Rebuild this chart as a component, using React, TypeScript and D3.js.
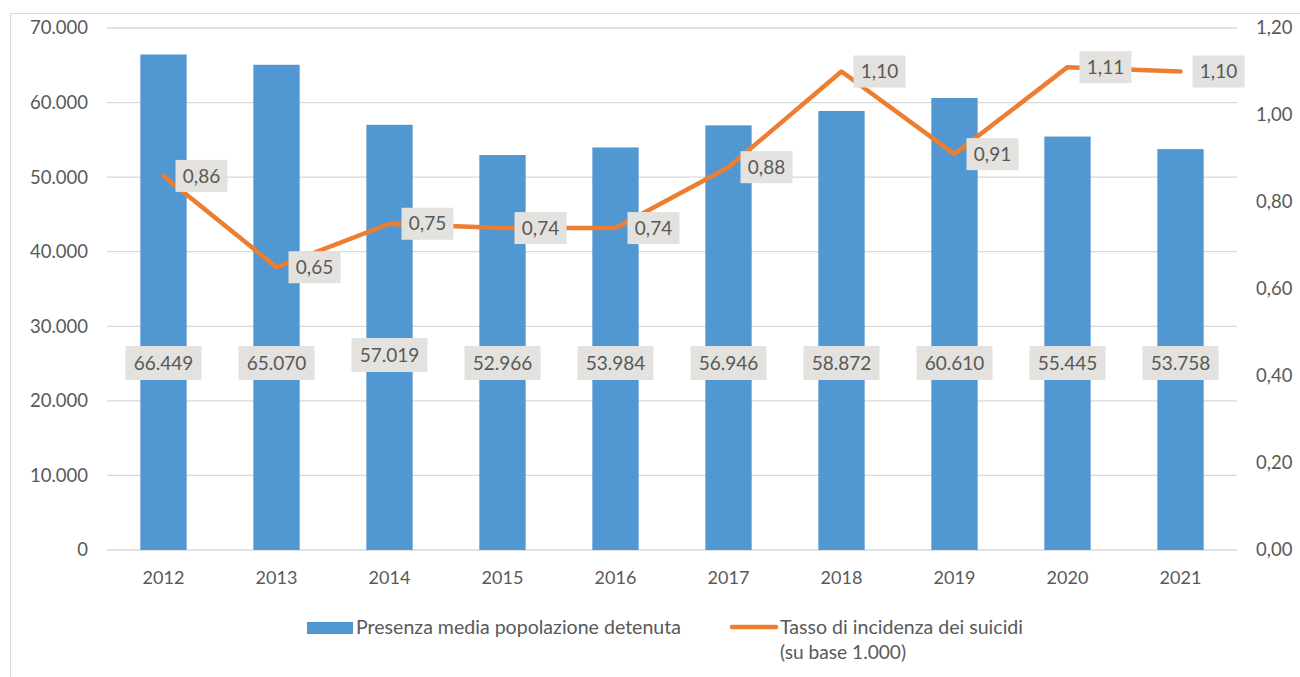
import React from 'react';
import { scaleBand, scaleLinear, line, format } from 'd3';

const width = 1300;
const height = 677;

const years = ['2012', '2013', '2014', '2015', '2016', '2017', '2018', '2019', '2020', '2021'];
const presenza = [66449, 65070, 57019, 52966, 53984, 56946, 58872, 60610, 55445, 53758];
const tasso = [0.86, 0.65, 0.75, 0.74, 0.74, 0.88, 1.1, 0.91, 1.11, 1.1];
const leftTicks = [0, 10000, 20000, 30000, 40000, 50000, 60000, 70000];
const rightTicks = [0, 0.2, 0.4, 0.6, 0.8, 1.0, 1.2];

const margin = { left: 107, right: 63, top: 28, bottom: 127 };
const font = 'Lato, "Open Sans", sans-serif';
const textColor = '#595959';

const itNum = (v: number) => format(',')(v).replace(/,/g, '.');
const itDec = (v: number) => v.toFixed(2).replace('.', ',');

export default function App() {
  const x = scaleBand()
    .domain(years)
    .range([margin.left, width - margin.right])
    .paddingInner(0.59)
    .paddingOuter(0.295);
  const yL = scaleLinear().domain([0, 70000]).range([height - margin.bottom, margin.top]);
  const yR = scaleLinear().domain([0, 1.2]).range([height - margin.bottom, margin.top]);
  const cx = (y: string) => (x(y) ?? 0) + x.bandwidth() / 2;

  const path = line<number>()
    .x((_, i) => cx(years[i]))
    .y((d) => yR(d))(tasso);

  return (
    <svg width={width} height={height} style={{ position: 'absolute', left: 0, top: 0 }}>
      <rect x={10.5} y={13.5} width={1300} height={700} fill="#fff" stroke="#d9d9d9" />
      {leftTicks.map((t) => (
        <g key={t}>
          <line x1={margin.left} x2={width - margin.right} y1={yL(t)} y2={yL(t)} stroke="#d9d9d9" strokeWidth={1.3} />
          <text x={88} y={yL(t)} dy="0.35em" textAnchor="end" fontFamily={font} fontSize={18.5} fill={textColor}>
            {itNum(t)}
          </text>
        </g>
      ))}
      {rightTicks.map((t) => (
        <text key={t} x={1256} y={yR(t)} dy="0.35em" fontFamily={font} fontSize={18.5} fill={textColor}>
          {itDec(t)}
        </text>
      ))}
      {years.map((yr, i) => (
        <rect key={yr} x={x(yr)} y={yL(presenza[i])} width={x.bandwidth()} height={yL(0) - yL(presenza[i])} fill="#5197d2" />
      ))}
      {years.map((yr) => (
        <text key={yr} x={cx(yr)} y={578} dy="0.35em" textAnchor="middle" fontFamily={font} fontSize={18} fill={textColor}>
          {yr}
        </text>
      ))}
      <path d={path ?? ''} fill="none" stroke="#ed7d31" strokeWidth={4.5} strokeLinejoin="round" strokeLinecap="round" />
      {years.map((yr, i) => {
        const ly = i === 2 ? 355 : 363;
        return (
          <g key={yr}>
            <rect x={cx(yr) - 38} y={ly - 17} width={76} height={34} fill="#e3e2de" />
            <text x={cx(yr)} y={ly} dy="0.35em" textAnchor="middle" fontFamily={font} fontSize={19} fill={textColor}>
              {itNum(presenza[i])}
            </text>
          </g>
        );
      })}
      {years.map((yr, i) => {
        const px = cx(yr) + 12;
        const py = yR(tasso[i]);
        return (
          <g key={yr}>
            <rect x={px} y={py - 16} width={52} height={32} fill="#e3e2de" />
            <text x={px + 26} y={py} dy="0.35em" textAnchor="middle" fontFamily={font} fontSize={19} fill={textColor}>
              {itDec(tasso[i])}
            </text>
          </g>
        );
      })}
      <rect x={307} y={622} width={46} height={12} fill="#5197d2" />
      <text x={356} y={628} dy="0.35em" fontFamily={font} fontSize={18.5} fill={textColor} textLength={325} lengthAdjust="spacingAndGlyphs">
        Presenza media popolazione detenuta
      </text>
      <line x1={732} x2={776} y1={627} y2={627} stroke="#ed7d31" strokeWidth={4.5} strokeLinecap="round" />
      <text x={780} y={628} dy="0.35em" fontFamily={font} fontSize={18.5} fill={textColor} textLength={243} lengthAdjust="spacingAndGlyphs">
        Tasso di incidenza dei suicidi
      </text>
      <text x={780} y={653} dy="0.35em" fontFamily={font} fontSize={18.5} fill={textColor} textLength={126} lengthAdjust="spacingAndGlyphs">
        (su base 1.000)
      </text>
    </svg>
  );
}
